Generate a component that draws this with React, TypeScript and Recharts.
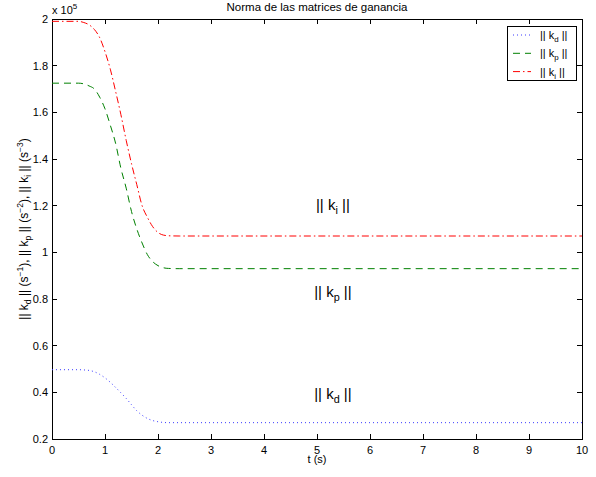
import { LineChart, Line, XAxis, YAxis, ReferenceDot } from 'recharts';

// time samples (s) and the three gain-matrix norms (x 10^5)
const times = [0, 0.5, 0.6, 0.7, 0.8, 0.9, 1.0, 1.1, 1.2, 1.3, 1.4, 1.5, 1.6, 1.7, 1.8, 1.9, 2.0, 2.1, 2.2, 2.4, 3, 4, 5, 6, 7, 8, 9, 10];
const kdNorm = [0.497, 0.497, 0.496, 0.494, 0.488, 0.477, 0.462, 0.443, 0.421, 0.398, 0.374, 0.347, 0.321, 0.302, 0.288, 0.279, 0.274, 0.271, 0.27, 0.27, 0.27, 0.27, 0.27, 0.27, 0.27, 0.27, 0.27, 0.27];
const kpNorm = [1.725, 1.725, 1.722, 1.713, 1.7, 1.665, 1.615, 1.545, 1.467, 1.36, 1.275, 1.175, 1.1, 1.04, 0.99, 0.96, 0.943, 0.934, 0.931, 0.93, 0.93, 0.93, 0.93, 0.93, 0.93, 0.93, 0.93, 0.93];
const kiNorm = [1.99, 1.99, 1.985, 1.975, 1.955, 1.92, 1.86, 1.785, 1.69, 1.59, 1.48, 1.38, 1.29, 1.2, 1.15, 1.11, 1.085, 1.074, 1.071, 1.07, 1.07, 1.07, 1.07, 1.07, 1.07, 1.07, 1.07, 1.07];

const xTicks = [0, 1, 2, 3, 4, 5, 6, 7, 8, 9, 10];
const yTicks = [0.2, 0.4, 0.6, 0.8, 1, 1.2, 1.4, 1.6, 1.8, 2];

// in-plot labels: [subscript, t, value]
const annotations: [string, number, number][] = [
  ['i', 5.3, 1.18],
  ['p', 5.3, 0.81],
  ['d', 5.3, 0.37],
];

const data = times.map((t, i) => ({ t, kd: kdNorm[i], kp: kpNorm[i], ki: kiNorm[i] }));

const FONT = '"Liberation Sans", Arial, Helvetica, sans-serif';
const X_DOMAIN: [number, number] = [0, 10];
const Y_DOMAIN: [number, number] = [0.2, 2];
const MARGIN = { top: 19, right: 14, bottom: 0, left: 2 };
const Y_AXIS_W = 50;
const X_AXIS_H = 38;
const W = 596;
const H = 477;
const TICK = 5;

// plot rectangle implied by the margins and axis sizes above
const PLOT = {
  x: MARGIN.left + Y_AXIS_W,
  y: MARGIN.top,
  w: W - MARGIN.left - Y_AXIS_W - MARGIN.right,
  h: H - MARGIN.top - MARGIN.bottom - X_AXIS_H,
};

const series = [
  { key: 'kd', sub: 'd', color: '#3a3aff', dash: '1 3' },
  { key: 'kp', sub: 'p', color: '#008000', dash: '7 5' },
  { key: 'ki', sub: 'i', color: '#ff0000', dash: '7 3 1.5 3' },
];

const Norm = ({ sub, size, shift }: { sub: string; size: number; shift: number }) => (
  <>
    {'|| k'}
    <tspan dy={shift} fontSize={size * 0.72}>{sub}</tspan>
    <tspan dy={-shift}>{' ||'}</tspan>
  </>
);

// MATLAB-style box with inward ticks on all four sides
const AxesBox = () => {
  const sx = (t: number) => PLOT.x + ((t - X_DOMAIN[0]) / (X_DOMAIN[1] - X_DOMAIN[0])) * PLOT.w;
  const sy = (v: number) => PLOT.y + PLOT.h - ((v - Y_DOMAIN[0]) / (Y_DOMAIN[1] - Y_DOMAIN[0])) * PLOT.h;
  const top = PLOT.y;
  const bottom = PLOT.y + PLOT.h;
  const left = PLOT.x;
  const right = PLOT.x + PLOT.w;
  return (
    <g>
      <rect x={left} y={top} width={PLOT.w} height={PLOT.h} fill="none" stroke="#000" strokeWidth={1} shapeRendering="crispEdges" />
      {xTicks.map((t) => (
        <g key={`x${t}`}>
          <line x1={sx(t)} x2={sx(t)} y1={bottom} y2={bottom - TICK} stroke="#000" shapeRendering="crispEdges" />
          <line x1={sx(t)} x2={sx(t)} y1={top} y2={top + TICK} stroke="#000" shapeRendering="crispEdges" />
        </g>
      ))}
      {yTicks.map((v) => (
        <g key={`y${v}`}>
          <line x1={left} x2={left + TICK} y1={sy(v)} y2={sy(v)} stroke="#000" shapeRendering="crispEdges" />
          <line x1={right} x2={right - TICK} y1={sy(v)} y2={sy(v)} stroke="#000" shapeRendering="crispEdges" />
        </g>
      ))}
    </g>
  );
};

const LegendBox = () => (
  <g transform="translate(507,26)">
    <rect x={0.5} y={0.5} width={69} height={54} fill="#fff" stroke="#000" />
    {series.map((s, i) => (
      <g key={s.key}>
        <line x1={6} x2={24} y1={9 + i * 18.3} y2={9 + i * 18.3} stroke={s.color} strokeDasharray={s.dash} />
        <text x={33} y={13 + i * 18.3} fontSize={11} fontFamily={FONT} fill="#000">
          <Norm sub={s.sub} size={11} shift={3} />
        </text>
      </g>
    ))}
  </g>
);

const tickFont = { fill: '#000', fontSize: 11, fontFamily: FONT };

export default function App() {
  return (
    <div style={{ position: 'absolute', left: 0, top: 0, width: W, height: H, background: '#fff' }}>
      <LineChart width={W} height={H} data={data} margin={MARGIN}>
        <XAxis
          dataKey="t"
          type="number"
          domain={X_DOMAIN}
          ticks={xTicks}
          interval={0}
          allowDataOverflow
          height={X_AXIS_H}
          tickSize={0}
          tickMargin={7}
          tickLine={false}
          axisLine={false}
          tick={tickFont}
        />
        <YAxis
          type="number"
          domain={Y_DOMAIN}
          ticks={yTicks}
          interval={0}
          allowDataOverflow
          width={Y_AXIS_W}
          tickSize={0}
          tickMargin={4}
          tickLine={false}
          axisLine={false}
          tick={tickFont}
        />
        {series.map((s) => (
          <Line
            key={s.key}
            type="monotone"
            dataKey={s.key}
            stroke={s.color}
            strokeWidth={1}
            strokeDasharray={s.dash}
            dot={false}
            activeDot={false}
            isAnimationActive={false}
          />
        ))}
        {annotations.map(([sub, t, v]) => (
          <ReferenceDot
            key={sub}
            x={t}
            y={v}
            r={0}
            shape={(p: any) => (
              <text x={p.cx} y={p.cy} textAnchor="middle" fontSize={15} fontFamily={FONT} fill="#000">
                <Norm sub={sub} size={15} shift={4} />
              </text>
            )}
          />
        ))}
        <AxesBox />
        <LegendBox />
        <text x={317} y={11} textAnchor="middle" fontSize={11.5} fontFamily={FONT} fill="#000">
          Norma de las matrices de ganancia
        </text>
        <text x={52} y={14} fontSize={11} fontFamily={FONT} fill="#000">
          x 10<tspan dy={-5} fontSize={8}>5</tspan>
        </text>
        <text x={317} y={463} textAnchor="middle" fontSize={11} fontFamily={FONT} fill="#000">
          t (s)
        </text>
        <text transform="rotate(-90)" x={-229} y={28} textAnchor="middle" fontSize={12} fontFamily={FONT} fill="#000">
          <Norm sub="d" size={12} shift={3} />
          {' (s'}
          <tspan dy={-5} fontSize={8.5}>−1</tspan>
          <tspan dy={5}>{'), '}</tspan>
          <Norm sub="p" size={12} shift={3} />
          {' (s'}
          <tspan dy={-5} fontSize={8.5}>−2</tspan>
          <tspan dy={5}>{'), '}</tspan>
          <Norm sub="i" size={12} shift={3} />
          {' (s'}
          <tspan dy={-5} fontSize={8.5}>−3</tspan>
          <tspan dy={5}>)</tspan>
        </text>
      </LineChart>
    </div>
  );
}
